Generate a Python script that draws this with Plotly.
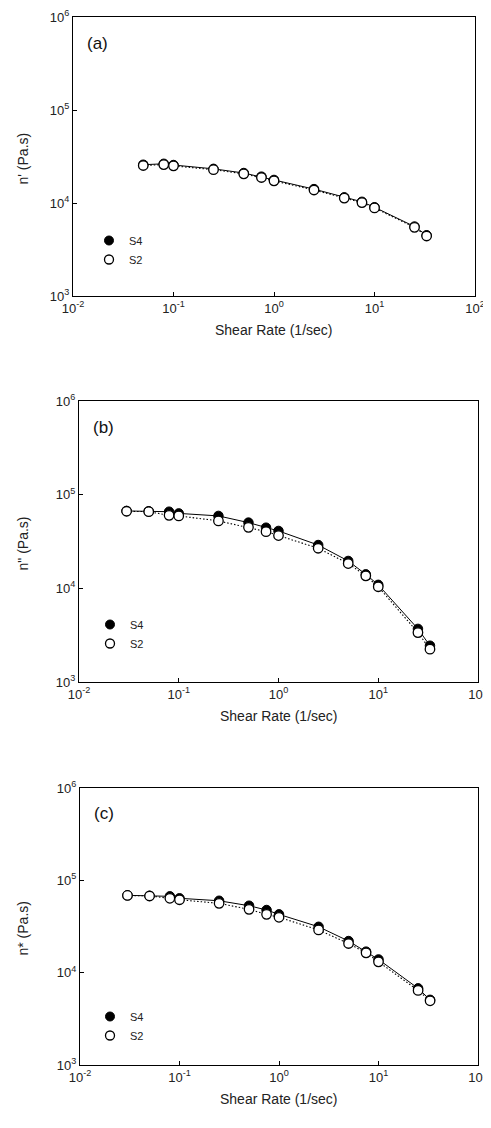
import plotly.graph_objects as go

# ---------------- data ----------------
rate_a = [0.05, 0.08, 0.1, 0.25, 0.5, 0.75, 1.0, 2.5, 5.0, 7.5, 10.0, 25.0, 33.0]
s4_a = [25800, 26400, 25600, 23300, 21000, 19200, 17700, 14100, 11500, 10300, 9000, 5580, 4500]
s2_a = [25300, 25900, 25100, 22800, 20600, 18800, 17300, 13800, 11300, 10100, 8850, 5470, 4420]

rate_bc = [0.03, 0.05, 0.08, 0.1, 0.25, 0.5, 0.75, 1.0, 2.5, 5.0, 7.5, 10.0, 25.0, 33.0]
s4_b = [67000, 66500, 65800, 63100, 59300, 50300, 44400, 41000, 29000, 19600, 14100, 10900, 3690, 2440]
s2_b = [66500, 65800, 60200, 59300, 52500, 44800, 40300, 36600, 26800, 18400, 13600, 10400, 3370, 2240]

s4_c = [68800, 67900, 67100, 63900, 60100, 53100, 47700, 42800, 31400, 22000, 16900, 13900, 6760, 5080]
s2_c = [68600, 67700, 63900, 61600, 56300, 48500, 42800, 39800, 29000, 20700, 16400, 13100, 6420, 4960]

x_tickvals = [0.01, 0.1, 1, 10, 100]
x_ticktext = ["10<sup>-2</sup>", "10<sup>-1</sup>", "10<sup>0</sup>", "10<sup>1</sup>", "10<sup>2</sup>"]
y_tickvals = [1e3, 1e4, 1e5, 1e6]
y_ticktext = ["10<sup>3</sup>", "10<sup>4</sup>", "10<sup>5</sup>", "10<sup>6</sup>"]

panel_labels = ["(a)", "(b)", "(c)"]
y_titles = ["n' (Pa.s)", 'n" (Pa.s)', "n* (Pa.s)"]
x_title = "Shear Rate (1/sec)"
series_names = ["S4", "S2"]

panels = [
    (rate_a, s4_a, s2_a),
    (rate_bc, s4_b, s2_b),
    (rate_bc, s4_c, s2_c),
]

# ---------------- layout geometry (pixels, figure coordinates) ----------------
W, H = 491, 1128
OFF = 8  # page body margin offset
# left, right, top, bottom of each plot area (screen pixels)
boxes = [(73, 475, 17, 296), (79, 478, 401, 682), (80, 478, 788, 1065)]
legend_pos = [(81, 218), (82, 602), (82, 994)]

FONT = "Liberation Sans, Arial, sans-serif"

fig = go.Figure()
layout = dict(
    width=W, height=H,
    margin=dict(l=0, r=0, t=0, b=0, autoexpand=False),
    paper_bgcolor="white", plot_bgcolor="white",
    showlegend=True,
    font=dict(family=FONT, color="#222", size=12),
)
annotations = []

for i, ((xr, s4, s2), box) in enumerate(zip(panels, boxes)):
    l, r, t, b = [v - OFF for v in box]
    k = "" if i == 0 else str(i + 1)
    xa, ya = "x" + k, "y" + k
    leg = "legend" if i == 0 else "legend" + str(i + 1)

    fig.add_trace(go.Scatter(
        x=xr, y=s4, xaxis=xa, yaxis=ya, mode="lines+markers", showlegend=False,
        line=dict(color="black", width=1, dash="solid"),
        marker=dict(symbol="circle", size=9.5, color="black", line=dict(color="black", width=1)),
    ))
    fig.add_trace(go.Scatter(
        x=xr, y=s2, xaxis=xa, yaxis=ya, mode="lines+markers", showlegend=False,
        line=dict(color="black", width=1.1, dash="1.5px,2px"),
        marker=dict(symbol="circle", size=9.5, color="white", line=dict(color="black", width=1.3)),
    ))
    # legend-only entries (markers only)
    fig.add_trace(go.Scatter(
        x=[None], y=[None], xaxis=xa, yaxis=ya, mode="markers", name=series_names[0], legend=leg,
        marker=dict(symbol="circle", size=9, color="black", line=dict(color="black", width=1)),
    ))
    fig.add_trace(go.Scatter(
        x=[None], y=[None], xaxis=xa, yaxis=ya, mode="markers", name=series_names[1], legend=leg,
        marker=dict(symbol="circle", size=9, color="white", line=dict(color="black", width=1.3)),
    ))

    layout["xaxis" + k] = dict(
        type="log", range=[-2, 2], domain=[l / W, r / W], anchor=ya, automargin=False,
        tickvals=x_tickvals, ticktext=x_ticktext, ticks="inside", ticklen=4,
        tickcolor="black", showline=True, linecolor="black", linewidth=1, mirror=True,
        showgrid=False, zeroline=False, tickfont=dict(size=13, family=FONT, color="#222"),
    )
    layout["yaxis" + k] = dict(
        type="log", range=[3, 6], domain=[1 - b / H, 1 - t / H], anchor=xa, automargin=False,
        tickvals=y_tickvals, ticktext=y_ticktext, ticks="inside", ticklen=4,
        tickcolor="black", showline=True, linecolor="black", linewidth=1, mirror=True,
        showgrid=False, zeroline=False, tickfont=dict(size=13, family=FONT, color="#222"),
    )
    lx, ly = legend_pos[i]
    layout[leg] = dict(
        x=lx / W, y=1 - ly / H, xanchor="left", yanchor="top",
        bgcolor="rgba(0,0,0,0)", font=dict(size=11, family=FONT, color="#222"),
        tracegroupgap=0, itemwidth=30,
    )
    # panel label
    annotations.append(dict(
        text=panel_labels[i], x=(l + 12) / W, y=1 - (t + 26) / H, xref="paper", yref="paper",
        xanchor="left", yanchor="middle", showarrow=False,
        font=dict(size=17, family=FONT, color="#111"),
    ))
    # x title
    annotations.append(dict(
        text=x_title, x=((l + r) / 2) / W, y=1 - (b + 34) / H, xref="paper", yref="paper",
        xanchor="center", yanchor="middle", showarrow=False,
        font=dict(size=14, family=FONT, color="#222"),
    ))
    # y title
    annotations.append(dict(
        text=y_titles[i], x=(22 - OFF) / W, y=1 - ((t + b) / 2 + 2) / H, xref="paper", yref="paper",
        xanchor="center", yanchor="middle", showarrow=False, textangle=-90,
        font=dict(size=14, family=FONT, color="#222"),
    ))

layout["annotations"] = annotations
fig.update_layout(**layout)
fig.write_html("out.html")
